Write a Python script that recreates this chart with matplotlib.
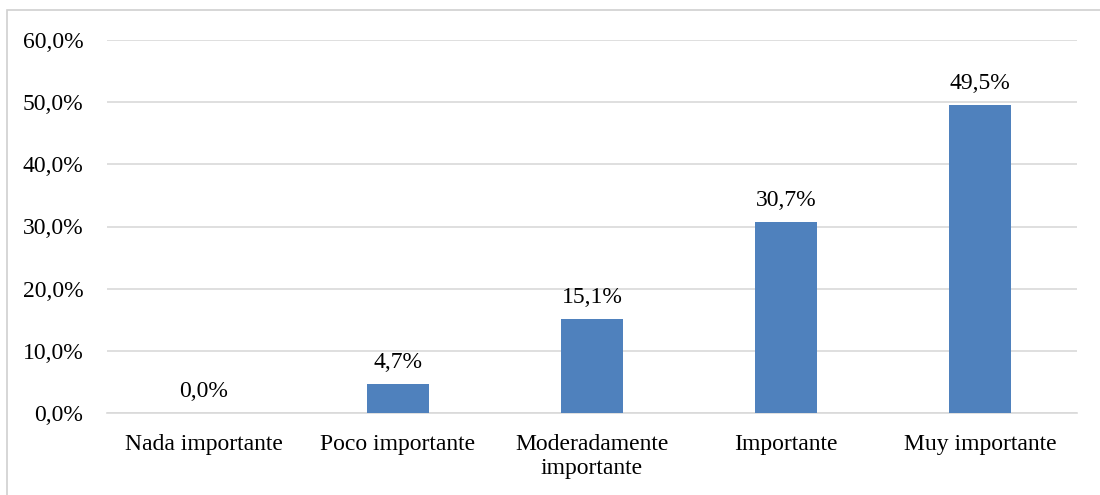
import matplotlib
matplotlib.use("Agg")
import matplotlib.pyplot as plt
from matplotlib.patches import Rectangle

# Datos del gráfico
categorias = ["Nada importante", "Poco importante", "Moderadamente\nimportante",
              "Importante", "Muy importante"]
valores = [0.0, 4.7, 15.1, 30.7, 49.5]
etiquetas_y = ["0,0%", "10,0%", "20,0%", "30,0%", "40,0%", "50,0%", "60,0%"]

COLOR_BARRA = "#4f81bd"
COLOR_GRID = "#d9d9d9"
TAM = 17

plt.rcParams["font.family"] = ["Liberation Serif", "DejaVu Serif"]

fig = plt.figure(figsize=(11, 4.95), dpi=100)
ax = fig.add_axes([107 / 1100, 82 / 495, 970 / 1100, 373 / 495])

# Marco exterior del gráfico
fig.patches.append(Rectangle((7 / 1100, -0.1), 1.2, 1.1 - 10 / 495,
                             transform=fig.transFigure, fill=False,
                             edgecolor="#d0d0d0", linewidth=1.2))

pos = range(len(categorias))
ax.bar(pos, valores, width=0.315, color=COLOR_BARRA, zorder=3)

for x, v in zip(pos, valores):
    ax.annotate(f"{v:.1f}%".replace(".", ","), (x, v), xytext=(0, 8),
                textcoords="offset points", ha="center", va="bottom", fontsize=TAM)

ax.set_xlim(-0.5, len(categorias) - 0.5)
ax.set_ylim(0, 60)
ax.set_yticks(range(0, 61, 10))
ax.set_yticklabels(etiquetas_y, fontsize=TAM)
ax.set_xticks(list(pos))
ax.set_xticklabels(categorias, fontsize=TAM, linespacing=1.2)

ax.grid(axis="y", color=COLOR_GRID, linewidth=1.2, zorder=0)
ax.tick_params(axis="y", length=0, pad=17)
ax.tick_params(axis="x", length=0, pad=15)
for lado in ["top", "right", "left"]:
    ax.spines[lado].set_visible(False)
ax.spines["bottom"].set_color(COLOR_GRID)
ax.spines["bottom"].set_linewidth(1.2)

fig.savefig("out.png", dpi=100)
